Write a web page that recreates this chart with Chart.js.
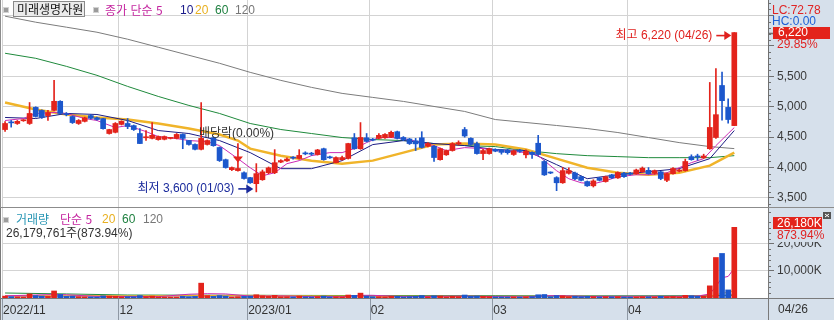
<!DOCTYPE html>
<html lang="ko"><head><meta charset="utf-8">
<script src="https://cdn.jsdelivr.net/npm/chart.js@4.4.1/dist/chart.umd.min.js"></script>
<style>
html,body{margin:0;padding:0;background:#fff;}
#wrap{position:relative;width:834px;height:320px;overflow:hidden;background:#fff;}
canvas{position:absolute;left:0;}
.t{position:absolute;white-space:nowrap;font-family:"Liberation Sans","Noto Sans CJK KR",sans-serif;font-size:12px;line-height:14px;}
.k{font-family:"Noto Sans CJK KR",sans-serif;font-size:12px;line-height:14px;}
.ico{position:absolute;width:4px;height:4px;background:#9b9b9b;border:1px solid #d2d2d2;}
</style></head><body>
<div id="wrap">
<canvas id="cp" width="834" height="208" style="top:0"></canvas>
<canvas id="cv" width="834" height="112" style="top:208px"></canvas>

<div class="ico" style="left:3px;top:7px"></div>
<div class="t k" style="left:13px;top:1px;height:14px;padding:0 1px 0 3px;background:#ebebeb;border:1px solid #8a8a8a;color:#111">미래생명자원</div>
<div class="ico" style="left:93px;top:7px"></div>
<div class="t k" style="left:105px;top:3px;color:#c4259f">종가 단순 5</div>
<div class="t" style="left:180px;top:3px;color:#1a1a8a">10</div>
<div class="t" style="left:195px;top:3px;color:#e8b020">20</div>
<div class="t" style="left:215px;top:3px;color:#1f8040">60</div>
<div class="t" style="left:235px;top:3px;color:#777">120</div>

<div class="t" style="left:772px;top:3px;color:#e02424">LC:72.78</div>
<div class="t" style="left:772px;top:14px;color:#1d5fd6">HC:0.00</div>

<div class="ico" style="left:3px;top:217px"></div>
<div class="t k" style="left:16px;top:212px;color:#2896b4">거래량</div>
<div class="t k" style="left:60px;top:212px;color:#c4259f">단순 5</div>
<div class="t" style="left:102px;top:212px;color:#e8b020">20</div>
<div class="t" style="left:122px;top:212px;color:#1f8040">60</div>
<div class="t" style="left:143px;top:212px;color:#777">120</div>
<div class="t" id="volinfo" style="left:6px;top:226px;color:#333"></div>
</div>
<script>
// ---------- categories (trading days) ----------
const nov=[4,7,8,9,10,11,14,15,16,17,18,21,22,23,24,25,28,29,30];
const dec=[1,2,5,6,7,8,9,12,13,14,15,16,19,20,21,22,23,26,27,28,29];
const jan=[2,3,4,5,6,9,10,11,12,13,16,17,18,19,20,25,26,27,30,31];
const feb=[1,2,3,6,7,8,9,10,13,14,15,16,17,20,21,22,23,24,27,28];
const mar=[2,3,6,7,8,9,10,13,14,15,16,17,20,21,22,23,24,27,28,29,30,31];
const apr=[3,4,5,6,7,10,11,12,13,14,17,18,19,20,21,24,25,26];
const monthTickText=['2022/11','12','2023/01','02','03','04'];
const monthNums=['11','12','01','02','03','04'];

// ---------- OHLC ----------
const open=[4625,4750,4725,4770,4725,4990,4940,4855,4940,5090,4880,4840,4725,4760,4855,4820,4805,4560,4580,4710,
4725,4690,4560,4490,4480,4460,4465,4480,4480,4545,4445,4380,4300,4380,4490,4330,4130,3965,3950,3915,
3835,3735,3800,3915,3915,4090,4110,4170,4150,4235,4230,4215,4310,4170,4080,4130,4150,4490,4310,4490,
4460,4480,4490,4500,4590,4495,4470,4440,4490,4350,4350,4130,4210,4280,4390,4625,4480,4395,4230,4230,
4300,4290,4285,4215,4290,4210,4250,4400,4100,3920,3835,3750,3905,3910,3850,3770,3700,3830,3770,3880,
3830,3910,3910,3900,3930,3955,3905,3930,3790,3900,3940,3950,4180,4180,4160,4310,4495,5350,4990,4690];
const high=[4757,4775,4775,4790,5070,5000,4950,4940,5435,5100,4905,4850,4790,4830,4870,4830,4810,4630,4740,4770,
4807,4700,4640,4610,4740,4520,4520,4490,4560,4555,4450,4390,5070,4455,4500,4340,4140,4010,4395,3930,
3840,4065,3960,4010,4295,4130,4160,4180,4295,4260,4250,4300,4320,4190,4175,4190,4400,4560,4740,4560,
4480,4560,4560,4600,4600,4510,4480,4480,4590,4410,4360,4320,4290,4410,4440,4660,4490,4420,4300,4320,
4310,4300,4300,4290,4300,4290,4260,4530,4115,3930,3850,4000,3995,3925,3860,3780,3800,3840,3860,3890,
3930,3920,3920,3975,4010,4000,3960,3940,3910,4000,3975,4140,4210,4220,4220,5400,5630,5570,5130,6220];
const low=[4593,4665,4710,4760,4710,4830,4810,4775,4930,4880,4850,4725,4710,4750,4800,4780,4630,4550,4570,4700,
4640,4610,4395,4445,4470,4450,4455,4470,4470,4310,4370,4290,4290,4370,4350,4100,3990,3950,3940,3810,
3740,3600,3790,3900,3900,4080,4100,4140,4140,4210,4200,4205,4120,4150,4075,4120,4140,4300,4300,4420,
4440,4470,4480,4490,4470,4440,4380,4280,4320,4340,4100,4120,4200,4270,4370,4500,4370,4220,4130,4220,
4260,4220,4220,4200,4250,4160,4150,4200,3870,3900,3620,3740,3890,3800,3780,3690,3680,3780,3760,3820,
3820,3840,3880,3890,3920,3890,3890,3800,3770,3890,3930,3940,4120,4120,4150,4300,4480,4780,4730,4690];
const close=[4725,4735,4760,4775,4890,4840,4825,4905,5090,4890,4870,4740,4775,4820,4810,4790,4640,4625,4725,4760,
4675,4625,4395,4495,4530,4510,4510,4485,4545,4480,4380,4300,4480,4445,4360,4115,4000,4000,3985,3820,
3750,3900,3930,3995,4080,4115,4140,4155,4200,4225,4220,4290,4130,4160,4165,4165,4395,4310,4495,4430,
4450,4530,4545,4580,4480,4460,4395,4390,4330,4395,4165,4310,4280,4395,4410,4520,4380,4230,4280,4310,
4270,4250,4245,4275,4265,4270,4215,4215,3880,3910,3750,3950,3950,3815,3790,3700,3780,3790,3850,3830,
3920,3850,3890,3960,3990,3900,3950,3820,3900,3985,3960,4100,4130,4175,4190,4660,4870,5100,4790,6220];
// volume in thousands of shares
const volume=[700,500,450,400,1500,900,700,600,2600,1300,600,700,500,450,400,350,800,700,650,400,
500,450,900,500,700,300,300,250,350,600,500,600,5500,900,600,900,700,400,500,600,
700,1200,800,600,1000,500,500,400,700,400,350,500,700,400,450,400,1100,1000,1800,700,
500,500,450,600,600,400,500,600,900,400,800,700,400,600,500,1100,600,700,600,500,
400,400,350,400,300,450,500,1200,1300,500,900,800,500,600,500,600,500,400,500,450,
500,400,350,400,500,450,400,600,500,550,400,1000,800,600,700,4500,15000,16500,2996,26180];

// ---------- moving averages (index -> value) ----------
const ma5Idx=[0,3,5,8,10,13,15,18,20,23,25,28,30,33,35,38,40,42,44,46,48,50,53,55,57,59,61,63,65,68,70,72,75,78,80,83,85,87,88,90,92,94,96,98,100,103,105,108,110,112,114,116,118,119];
const ma5Val=[4774,4807,4890,4906,4890,4807,4774,4658,4691,4592,4510,4477,4444,4427,4361,4146,3997,3865,3915,4064,4114,4196,4246,4246,4312,4411,4494,4494,4477,4411,4361,4279,4328,4312,4279,4262,4246,4196,4114,3948,3816,3750,3733,3783,3849,3882,3882,3915,3997,4081,4146,4361,4559,4658];
const ma10Idx=[0,5,10,15,20,25,30,35,40,45,50,55,60,65,70,75,80,85,90,95,100,105,110,115,119];
const ma10Val=[4824,4807,4890,4873,4774,4609,4560,4444,4246,3982,3982,4114,4378,4444,4395,4362,4296,4279,4048,3817,3883,3932,3982,4147,4609];
const ma20Idx=[0,5,10,15,20,25,30,35,38,40,45,50,55,60,65,70,75,80,85,90,95,100,105,110,115,119];
const ma20Val=[5071,4956,4873,4824,4791,4725,4642,4543,4444,4312,4196,4114,4064,4114,4246,4378,4395,4378,4296,4147,3998,3916,3883,3916,4032,4246];
const ma60Idx=[0,5,10,15,20,25,30,35,40,45,50,55,60,65,70,75,80,85,90,95,100,105,110,115,119];
const ma60Val=[5880,5797,5665,5517,5335,5170,5022,4890,4725,4626,4560,4494,4461,4444,4395,4362,4345,4279,4229,4196,4180,4163,4163,4163,4196];
const ma120Idx=[0,5,10,15,20,25,30,35,40,45,50,55,60,65,70,75,80,85,90,95,100,105,110,115,119];
const ma120Val=[6490,6391,6309,6226,6111,5979,5847,5715,5566,5434,5319,5220,5154,5088,5005,4923,4790,4741,4692,4642,4576,4494,4411,4345,4312];
const vma5Idx=[0,5,8,10,15,20,25,30,33,36,40,45,50,55,58,60,65,70,75,80,85,88,90,95,100,105,110,113,115,116,117,118,119];
const vma5Val=[800,1100,1300,1200,600,550,500,1400,1600,1500,700,800,500,500,1000,1000,500,600,700,500,400,800,900,550,450,450,500,700,1500,4300,7500,8000,11000];
const vma20Idx=[0,10,20,30,40,50,60,70,80,90,100,110,115,119];
const vma20Val=[900,1000,800,900,1000,800,700,650,600,650,550,500,700,2700];
const vma60Idx=[0,10,20,40,60,80,100,115,119];
const vma60Val=[1850,1500,1100,1000,900,800,700,700,1200];
const vma120Idx=[0,30,60,90,119];
const vma120Val=[700,750,800,750,900];

const volInfoText='26,179,761주(873.94%)';
const volRatioText='873.94%';

// ---------- build ----------
const N=close.length, EXTRA=5;
const months=[nov,dec,jan,feb,mar,apr];
const dates=[]; const monthLbl={};
months.forEach((days,m)=>{ monthLbl[dates.length]=monthTickText[m];
  days.forEach(d=>dates.push(monthNums[m]+'/'+String(d).padStart(2,'0'))); });
const labels=dates.concat(Array(EXTRA).fill(''));
const monthStarts=Object.keys(monthLbl).map(Number);
const UP='#e3231b', DOWN='#1c57cc';
const colors=open.map((o,i)=> close[i]>o ? UP : (close[i]<o ? DOWN : (i>0 && close[i]<close[i-1]?DOWN:UP)));
function sparse(idx,vals){const a=Array(N).fill(null); idx.forEach((k,j)=>a[k]=vals[j]); return a;}
function lineDs(data,color,w,order,yID){return {type:'line',data,borderColor:color,borderWidth:w,pointRadius:0,spanGaps:true,tension:0,fill:false,order,yAxisID:yID};}

document.getElementById('volinfo').textContent=volInfoText;

const FONT='"Liberation Sans","Noto Sans CJK KR",sans-serif';
const PANEL='#d6e0eb', GRID='#d3d3d3', AXIS='#707070';
const gridColorX=c=> monthStarts.includes(c.index)?GRID:'rgba(0,0,0,0)';

function arrow(ctx,x1,x2,y,color){
  ctx.strokeStyle=color; ctx.fillStyle=color; ctx.lineWidth=1.6;
  ctx.beginPath(); ctx.moveTo(x1,y); ctx.lineTo(x2-5,y); ctx.stroke();
  ctx.beginPath(); ctx.moveTo(x2,y); ctx.lineTo(x2-7,y-4.5); ctx.lineTo(x2-7,y+4.5); ctx.closePath(); ctx.fill();
}

const pricePlugin={id:'pp',
  beforeDraw(c){const ctx=c.ctx,a=c.chartArea; ctx.save(); ctx.fillStyle=PANEL; ctx.fillRect(a.right,0,c.width-a.right,c.height); ctx.restore();},
  afterDraw(c){
    const ctx=c.ctx,a=c.chartArea,xs=c.scales.x,ys=c.scales.y; ctx.save();
    ctx.strokeStyle=AXIS; ctx.lineWidth=1;
    for(let v=3400;v<=6700;v+=100){ if(v%500===0) continue; const y=Math.round(ys.getPixelForValue(v))+0.5;
      ctx.beginPath(); ctx.moveTo(a.right,y); ctx.lineTo(a.right+3,y); ctx.stroke(); }
    ctx.strokeStyle='#8c8c8c';
    ctx.beginPath(); ctx.moveTo(0,c.height-0.5); ctx.lineTo(c.width,c.height-0.5); ctx.stroke();
    ctx.beginPath(); ctx.moveTo(0.5,0); ctx.lineTo(0.5,c.height); ctx.stroke();
    ctx.font='12px '+FONT; ctx.textBaseline='middle';
    // highest
    const hv=Math.max(...high), iH=high.indexOf(hv);
    let px=xs.getPixelForValue(iH), py=ys.getPixelForValue(hv)+3;
    arrow(ctx,px-18,px-3,py,'#e0201e');
    ctx.fillStyle='#e0201e'; ctx.textAlign='right';
    ctx.fillText('최고 '+hv.toLocaleString('en-US')+' ('+dates[iH]+')',px-22,py);
    // lowest
    const lv=Math.min(...low), iL=low.indexOf(lv);
    px=xs.getPixelForValue(iL); py=ys.getPixelForValue(lv)-3;
    arrow(ctx,px-18,px-3,py,'#1a2a9c');
    ctx.fillStyle='#1a2a9c';
    ctx.fillText('최저 '+lv.toLocaleString('en-US')+' ('+dates[iL]+')',px-22,py);
    // ex-dividend (12/28)
    const iD=dates.indexOf('12/28');
    px=xs.getPixelForValue(iD);
    const bt=ys.getPixelForValue(Math.max(open[iD],close[iD]));
    ctx.fillStyle='#e3231b'; ctx.beginPath(); ctx.moveTo(px-5,bt-12); ctx.lineTo(px+5,bt-12); ctx.lineTo(px,bt-6); ctx.closePath(); ctx.fill();
    ctx.fillStyle='#333'; ctx.textAlign='left';
    ctx.fillText('배당락(0.00%)',px-39,ys.getPixelForValue(high[iD])-10);
    // last price box
    const last=N-1, ly=ys.getPixelForValue(close[last]);
    ctx.strokeStyle=AXIS; ctx.beginPath(); ctx.moveTo(a.right,Math.round(ly)+0.5); ctx.lineTo(a.right+5,Math.round(ly)+0.5); ctx.stroke();
    ctx.fillStyle='#e3231b'; ctx.fillRect(a.right+5,Math.round(ly)-6,57,12);
    ctx.fillStyle='#fff'; ctx.fillText(close[last].toLocaleString('en-US'),a.right+10,ly+0.5);
    ctx.fillStyle=PANEL; ctx.fillRect(a.right+6,Math.round(ly)+6,60,11);
    ctx.fillStyle='#e02424';
    ctx.fillText(((close[last]/close[last-1]-1)*100).toFixed(2)+'%',a.right+9,ly+12);
    ctx.restore();
  }};

const VMAX=33333;
const volPlugin={id:'vp',
  beforeDraw(c){const ctx=c.ctx,a=c.chartArea; ctx.save(); ctx.fillStyle=PANEL;
    ctx.fillRect(a.right,0,c.width-a.right,c.height); ctx.fillRect(0,a.bottom,c.width,c.height-a.bottom); ctx.restore();},
  afterDraw(c){
    const ctx=c.ctx,a=c.chartArea,xs=c.scales.x,ys=c.scales.y; ctx.save();
    ctx.strokeStyle=AXIS; ctx.lineWidth=1;
    for(let v=2000;v<VMAX;v+=2000){ if(v%10000===0) continue; const y=Math.round(ys.getPixelForValue(v))+0.5;
      ctx.beginPath(); ctx.moveTo(a.right,y); ctx.lineTo(a.right+3,y); ctx.stroke(); }
    const half=(xs.getPixelForValue(1)-xs.getPixelForValue(0))/2;
    ctx.strokeStyle='#8e98a4';
    monthStarts.forEach(i=>{const x=Math.round(xs.getPixelForValue(i)-half)+0.5;
      ctx.beginPath(); ctx.moveTo(x,a.bottom); ctx.lineTo(x,c.height); ctx.stroke();});
    ctx.strokeStyle='#7a7a7a';
    ctx.beginPath(); ctx.moveTo(a.right+0.5,0); ctx.lineTo(a.right+0.5,c.height); ctx.stroke();
    ctx.beginPath(); ctx.moveTo(0,a.bottom+0.5); ctx.lineTo(c.width,a.bottom+0.5); ctx.stroke();
    ctx.beginPath(); ctx.moveTo(0.5,0); ctx.lineTo(0.5,c.height); ctx.stroke();
    ctx.font='12px '+FONT; ctx.textBaseline='middle'; ctx.textAlign='left';
    ctx.fillStyle='#333'; ctx.fillText(dates[N-1],a.right+10,a.bottom+12);
    const last=N-1, ly=ys.getPixelForValue(volume[last])-4;
    ctx.fillStyle='#e3231b'; ctx.fillRect(a.right+5,Math.round(ly)-6,49,12);
    ctx.fillStyle='#fff'; ctx.fillText(volume[last].toLocaleString('en-US')+'K',a.right+9,ly+0.5);
    ctx.fillStyle=PANEL; ctx.fillRect(a.right+6,Math.round(ly)+6,56,13);
    ctx.fillStyle='#e02424'; ctx.fillText(volRatioText,a.right+9,ly+12);
    ctx.fillStyle='#555'; ctx.fillRect(a.right+55,4,8,7);
    ctx.strokeStyle='#fff'; ctx.beginPath(); ctx.moveTo(a.right+57,6); ctx.lineTo(a.right+61,9); ctx.moveTo(a.right+61,6); ctx.lineTo(a.right+57,9); ctx.stroke();
    ctx.restore();
  }};

const common={responsive:false,animation:false,devicePixelRatio:1,events:[],
  layout:{padding:{left:2,right:0,top:0,bottom:0}},
  plugins:{legend:{display:false},tooltip:{enabled:false}}};

function yAxis(min,max,tickVals,fmt){return {position:'right',min,max,
  afterBuildTicks:s=>{s.ticks=tickVals.map(v=>({value:v}));},
  ticks:{callback:fmt,color:'#3a3a3a',font:{family:FONT,size:12},padding:3,autoSkip:false},
  grid:{color:GRID,tickLength:6,tickColor:AXIS},
  border:{color:AXIS},
  afterFit:s=>{s.width=66;s.paddingTop=0;s.paddingBottom=0;}};}

new Chart(document.getElementById('cp'),{type:'bar',
  data:{labels,datasets:[
    {type:'bar',data:open.map((o,i)=>[o,close[i]]),backgroundColor:colors,barThickness:5,grouped:false,minBarLength:1,order:0},
    {type:'bar',data:low.map((l,i)=>[l,high[i]]),backgroundColor:colors,barThickness:1,grouped:false,order:1},
    lineDs(sparse(ma5Idx,ma5Val),'#cc2ab4',1,5,'y'),
    lineDs(sparse(ma10Idx,ma10Val),'#1c1c84',1,6,'y'),
    lineDs(sparse(ma20Idx,ma20Val),'#f0b42a',2.5,7,'y'),
    lineDs(sparse(ma60Idx,ma60Val),'#1f8a3c',1,8,'y'),
    lineDs(sparse(ma120Idx,ma120Val),'#7c7c7c',1,9,'y')]},
  options:Object.assign({},common,{scales:{
    x:{type:'category',offset:true,grid:{offset:true,drawTicks:false,color:gridColorX},ticks:{display:false},border:{display:false},
       afterFit:s=>{s.height=0;s.paddingLeft=0;s.paddingRight=0;}},
    y:yAxis(3335,6756,[3500,4000,4500,5000,5500,6000,6500],v=>v<=5500?v.toLocaleString('en-US'):'')}}),
  plugins:[pricePlugin]});

new Chart(document.getElementById('cv'),{type:'bar',
  data:{labels,datasets:[
    {type:'bar',data:volume,backgroundColor:colors,barThickness:5,grouped:false,minBarLength:1,order:0},
    lineDs(sparse(vma5Idx,vma5Val),'#cc2ab4',1,5,'y'),
    lineDs(sparse(vma20Idx,vma20Val),'#f0b42a',1,6,'y'),
    lineDs(sparse(vma60Idx,vma60Val),'#1f8a3c',1,7,'y'),
    lineDs(sparse(vma120Idx,vma120Val),'#7c7c7c',1,8,'y')]},
  options:Object.assign({},common,{scales:{
    x:{type:'category',offset:true,grid:{offset:true,drawTicks:false,color:gridColorX},
       ticks:{autoSkip:false,maxRotation:0,minRotation:0,align:'start',padding:5,labelOffset:-2,color:'#333',font:{family:FONT,size:12},
              callback:(v,i)=>monthLbl[i]||''},
       border:{display:false},
       afterFit:s=>{s.height=22;s.paddingLeft=0;s.paddingRight=0;}},
    y:yAxis(0,VMAX,[10000,20000],v=>v.toLocaleString('en-US')+'K')}}),
  plugins:[volPlugin]});
</script>
</body></html>
